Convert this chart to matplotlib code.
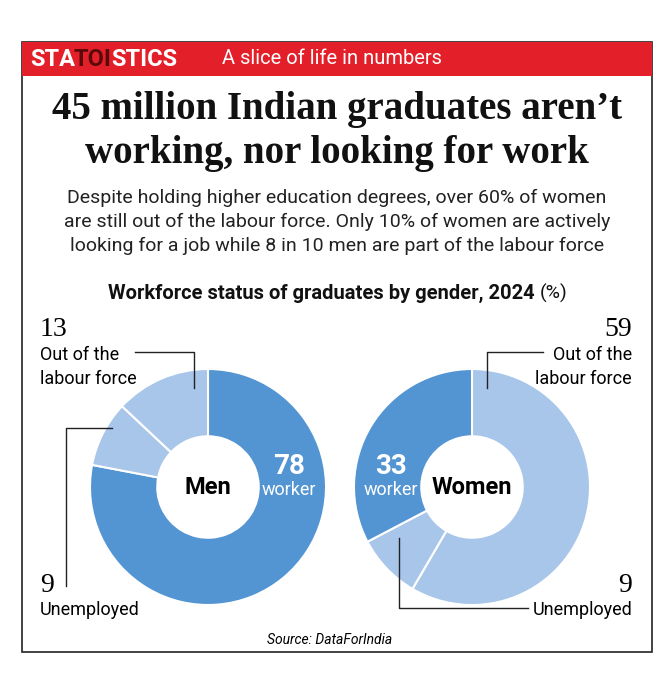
import matplotlib
matplotlib.use("Agg")
import matplotlib.pyplot as plt
from matplotlib.patches import Rectangle

W, H = 661, 675

# ─── data ───
men_labels = ["worker", "Unemployed", "Out of the labour force"]
men_values = [78, 9, 13]
women_labels = ["Out of the labour force", "Unemployed", "worker"]
women_values = [59, 9, 33]

DARK = "#5394d3"
LIGHT = "#a8c5ea"
RED = "#e3202a"
SANS = ["Liberation Sans Narrow", "Roboto", "DejaVu Sans"]
SERIF = ["Liberation Serif", "DejaVu Serif"]

fig = plt.figure(figsize=(W / 100, H / 100), dpi=100)


def fx(x):
    return x / W


def fy(y):
    return 1 - y / H


def txt(x, y, s, **kw):
    kw.setdefault("family", SANS)
    fig.text(fx(x), fy(y), s, **kw)


# frame and red header
fig.patches.append(Rectangle((fx(22), fy(652)), fx(652) - fx(22), fy(42) - fy(652),
                             transform=fig.transFigure, fill=False, ec="#222222", lw=1.2))
fig.patches.append(Rectangle((fx(22), fy(76)), fx(652) - fx(22), fy(42) - fy(76),
                             transform=fig.transFigure, color=RED, lw=0))

txt(30, 59, "STA", color="white", fontsize=17, fontweight="bold", va="center")
txt(74, 59, "TOI", color="#5a0a0a", fontsize=17, fontweight="bold", va="center")
txt(111, 59, "STICS", color="white", fontsize=17, fontweight="bold", va="center")
txt(222, 59, "A slice of life in numbers", color="white", fontsize=14.5, va="center")

txt(337, 109, "45 million Indian graduates aren\u2019t", family=SERIF, fontsize=28,
    fontweight="bold", ha="center", va="center", color="#111111")
txt(337, 154, "working, nor looking for work", family=SERIF, fontsize=28,
    fontweight="bold", ha="center", va="center", color="#111111")

body = ["Despite holding higher education degrees, over 60% of women",
        "are still out of the labour force. Only 10% of women are actively",
        "looking for a job while 8 in 10 men are part of the labour force"]
for i, line in enumerate(body):
    txt(337, 198 + 24 * i, line, fontsize=14, ha="center", va="center", color="#222222")

txt(535, 293, "Workforce status of graduates by gender, 2024", fontsize=14.5,
    fontweight="bold", ha="right", va="center", color="#111111")
txt(540, 293, "(%)", fontsize=14, ha="left", va="center", color="#111111")


def donut(cx, cy, values, colors):
    r = 118
    ax = fig.add_axes([fx(cx - r), fy(cy + r), 2 * r / W, 2 * r / H])
    ax.pie(values, colors=colors, startangle=90, counterclock=False,
           radius=1, wedgeprops=dict(width=0.57, edgecolor="white", linewidth=1.5))
    ax.set_xlim(-1, 1)
    ax.set_ylim(-1, 1)
    ax.axis("off")


donut(208, 487, men_values, [DARK, LIGHT, LIGHT])
donut(472, 487, women_values, [LIGHT, LIGHT, DARK])

txt(208, 487, "Men", fontsize=17, fontweight="bold", ha="center", va="center")
txt(472, 487, "Women", fontsize=17, fontweight="bold", ha="center", va="center")
txt(289, 466, str(men_values[0]), fontsize=20, fontweight="bold", color="white", ha="center", va="center")
txt(289, 490, men_labels[0], fontsize=13, color="white", ha="center", va="center")
txt(391, 466, str(women_values[2]), fontsize=20, fontweight="bold", color="white", ha="center", va="center")
txt(391, 490, women_labels[2], fontsize=13, color="white", ha="center", va="center")

# corner labels
txt(40, 330, str(men_values[2]), family=SERIF, fontsize=20, va="center")
txt(40, 355, "Out of the", fontsize=13, va="center")
txt(40, 379, "labour force", fontsize=13, va="center")
txt(40, 585, str(men_values[1]), family=SERIF, fontsize=20, va="center")
txt(40, 610, "Unemployed", fontsize=13, va="center")
txt(632, 330, str(women_values[0]), family=SERIF, fontsize=20, va="center", ha="right")
txt(632, 355, "Out of the", fontsize=13, va="center", ha="right")
txt(632, 379, "labour force", fontsize=13, va="center", ha="right")
txt(632, 585, str(women_values[1]), family=SERIF, fontsize=20, va="center", ha="right")
txt(632, 610, "Unemployed", fontsize=13, va="center", ha="right")


def leader(pts):
    xs = [fx(p[0]) for p in pts]
    ys = [fy(p[1]) for p in pts]
    fig.add_artist(plt.Line2D(xs, ys, transform=fig.transFigure, color="#222222", lw=1))


leader([(135, 352), (194, 352), (194, 388)])
leader([(112, 428), (66, 428), (66, 586)])
leader([(543, 352), (487, 352), (487, 388)])
leader([(399, 538), (399, 608), (528, 608)])

txt(330, 640, "Source: DataForIndia", fontsize=10, style="italic", ha="center", va="center")

fig.savefig("out.png", dpi=100, facecolor="white")
